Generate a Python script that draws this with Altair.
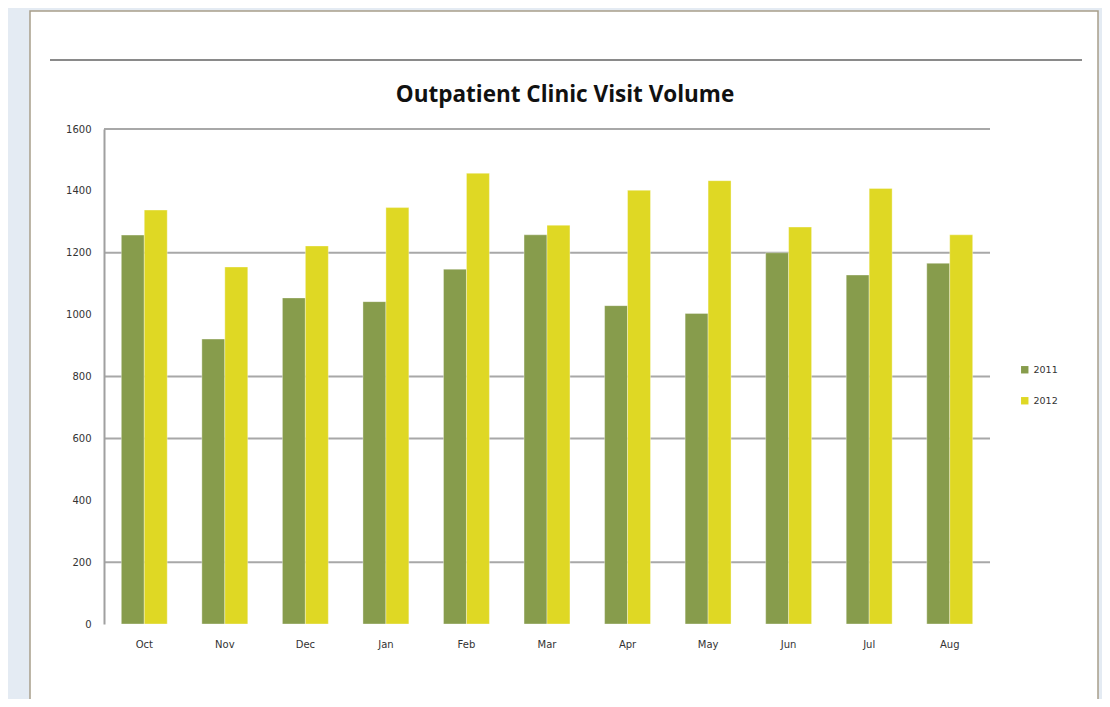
import altair as alt
import pandas as pd

chart_title = "Outpatient Clinic Visit Volume"
months = ["Oct", "Nov", "Dec", "Jan", "Feb", "Mar", "Apr", "May", "Jun", "Jul", "Aug"]
visits_2011 = [1257, 921, 1054, 1042, 1147, 1258, 1029, 1004, 1200, 1128, 1166]
visits_2012 = [1338, 1154, 1222, 1346, 1457, 1289, 1402, 1433, 1283, 1408, 1258]
years = ["2011", "2012"]
y_ticks = [0, 200, 400, 600, 800, 1000, 1200, 1400, 1600]
grid_values = [200, 600, 800, 1200, 1600]

rows = []
for m, a, b in zip(months, visits_2011, visits_2012):
    rows.append({"month": m, "year": years[0], "visits": a})
    rows.append({"month": m, "year": years[1], "visits": b})
df = pd.DataFrame(rows)
grid_df = pd.DataFrame({"v": grid_values})
one = pd.DataFrame({"a": [0]})
title_df = pd.DataFrame({"t": [chart_title]})

W, H = 886, 495
PL, PT = 96, 121
TW, TH = 1094, 691

panel = alt.Chart(one).mark_rect(fill="white", stroke="#a89f8a", strokeWidth=1.5).encode(
    x=alt.value(22 - PL), x2=alt.value(1090 - PL),
    y=alt.value(3 - PT), y2=alt.value(720 - PT)
)

sep = alt.Chart(one).mark_rule(color="#8a8a8a", strokeWidth=2).encode(
    x=alt.value(42 - PL), x2=alt.value(1074 - PL), y=alt.value(52 - PT)
)

title = alt.Chart(title_df).mark_text(font="Open Sans", fontSize=22.5, fontWeight="bold",
                                      color="#111111", align="center",
                                      baseline="alphabetic").encode(
    text="t:N", x=alt.value(565 - 8 - PL), y=alt.value(102 - 8 - PT)
)

yscale = alt.Scale(domain=[0, 1600], nice=False)
yaxis = alt.Axis(values=y_ticks, format="d", grid=False, ticks=False, domainColor="#a0a0a0",
                 domainWidth=2, labelPadding=13, labelFont="DejaVu Sans",
                 labelFontSize=10, labelColor="#333333", zindex=1)

grid = alt.Chart(grid_df).mark_rule(color="#a8a8a8", strokeWidth=2).encode(
    y=alt.Y("v:Q", scale=yscale, title=None, axis=yaxis)
)

bars = alt.Chart(df).mark_bar(stroke="#ffffff", strokeOpacity=0.35, strokeWidth=1).encode(
    x=alt.X("month:N", sort=months, title=None,
            scale=alt.Scale(paddingInner=0.43, paddingOuter=0.215),
            axis=alt.Axis(labelAngle=0, domain=False, ticks=False, labelPadding=15,
                          labelFont="DejaVu Sans", labelFontSize=10, labelColor="#333333",
                          zindex=1)),
    xOffset=alt.XOffset("year:N", sort=years, scale=alt.Scale(paddingInner=0, paddingOuter=0)),
    y=alt.Y("visits:Q", scale=yscale, title=None, axis=yaxis),
    color=alt.Color("year:N", sort=years,
                    scale=alt.Scale(domain=years, range=["#879c4c", "#dfd824"]),
                    legend=alt.Legend(title=None, orient="none", legendX=916, legendY=236,
                                      symbolType="square", symbolSize=55, symbolStrokeWidth=0,
                                      labelFont="DejaVu Sans", labelFontSize=9.5,
                                      labelColor="#333333", rowPadding=20)),
)

chart = alt.layer(panel, sep, title, grid, bars).properties(
    width=W, height=H,
    autosize=alt.AutoSizeParams(type="none"),
    padding={"left": PL, "top": PT, "right": TW - PL - W, "bottom": TH - PT - H},
    background="#e4ebf3",
).configure_view(stroke=None)

chart.save("out.html", embed_options={"renderer": "svg", "actions": False})
